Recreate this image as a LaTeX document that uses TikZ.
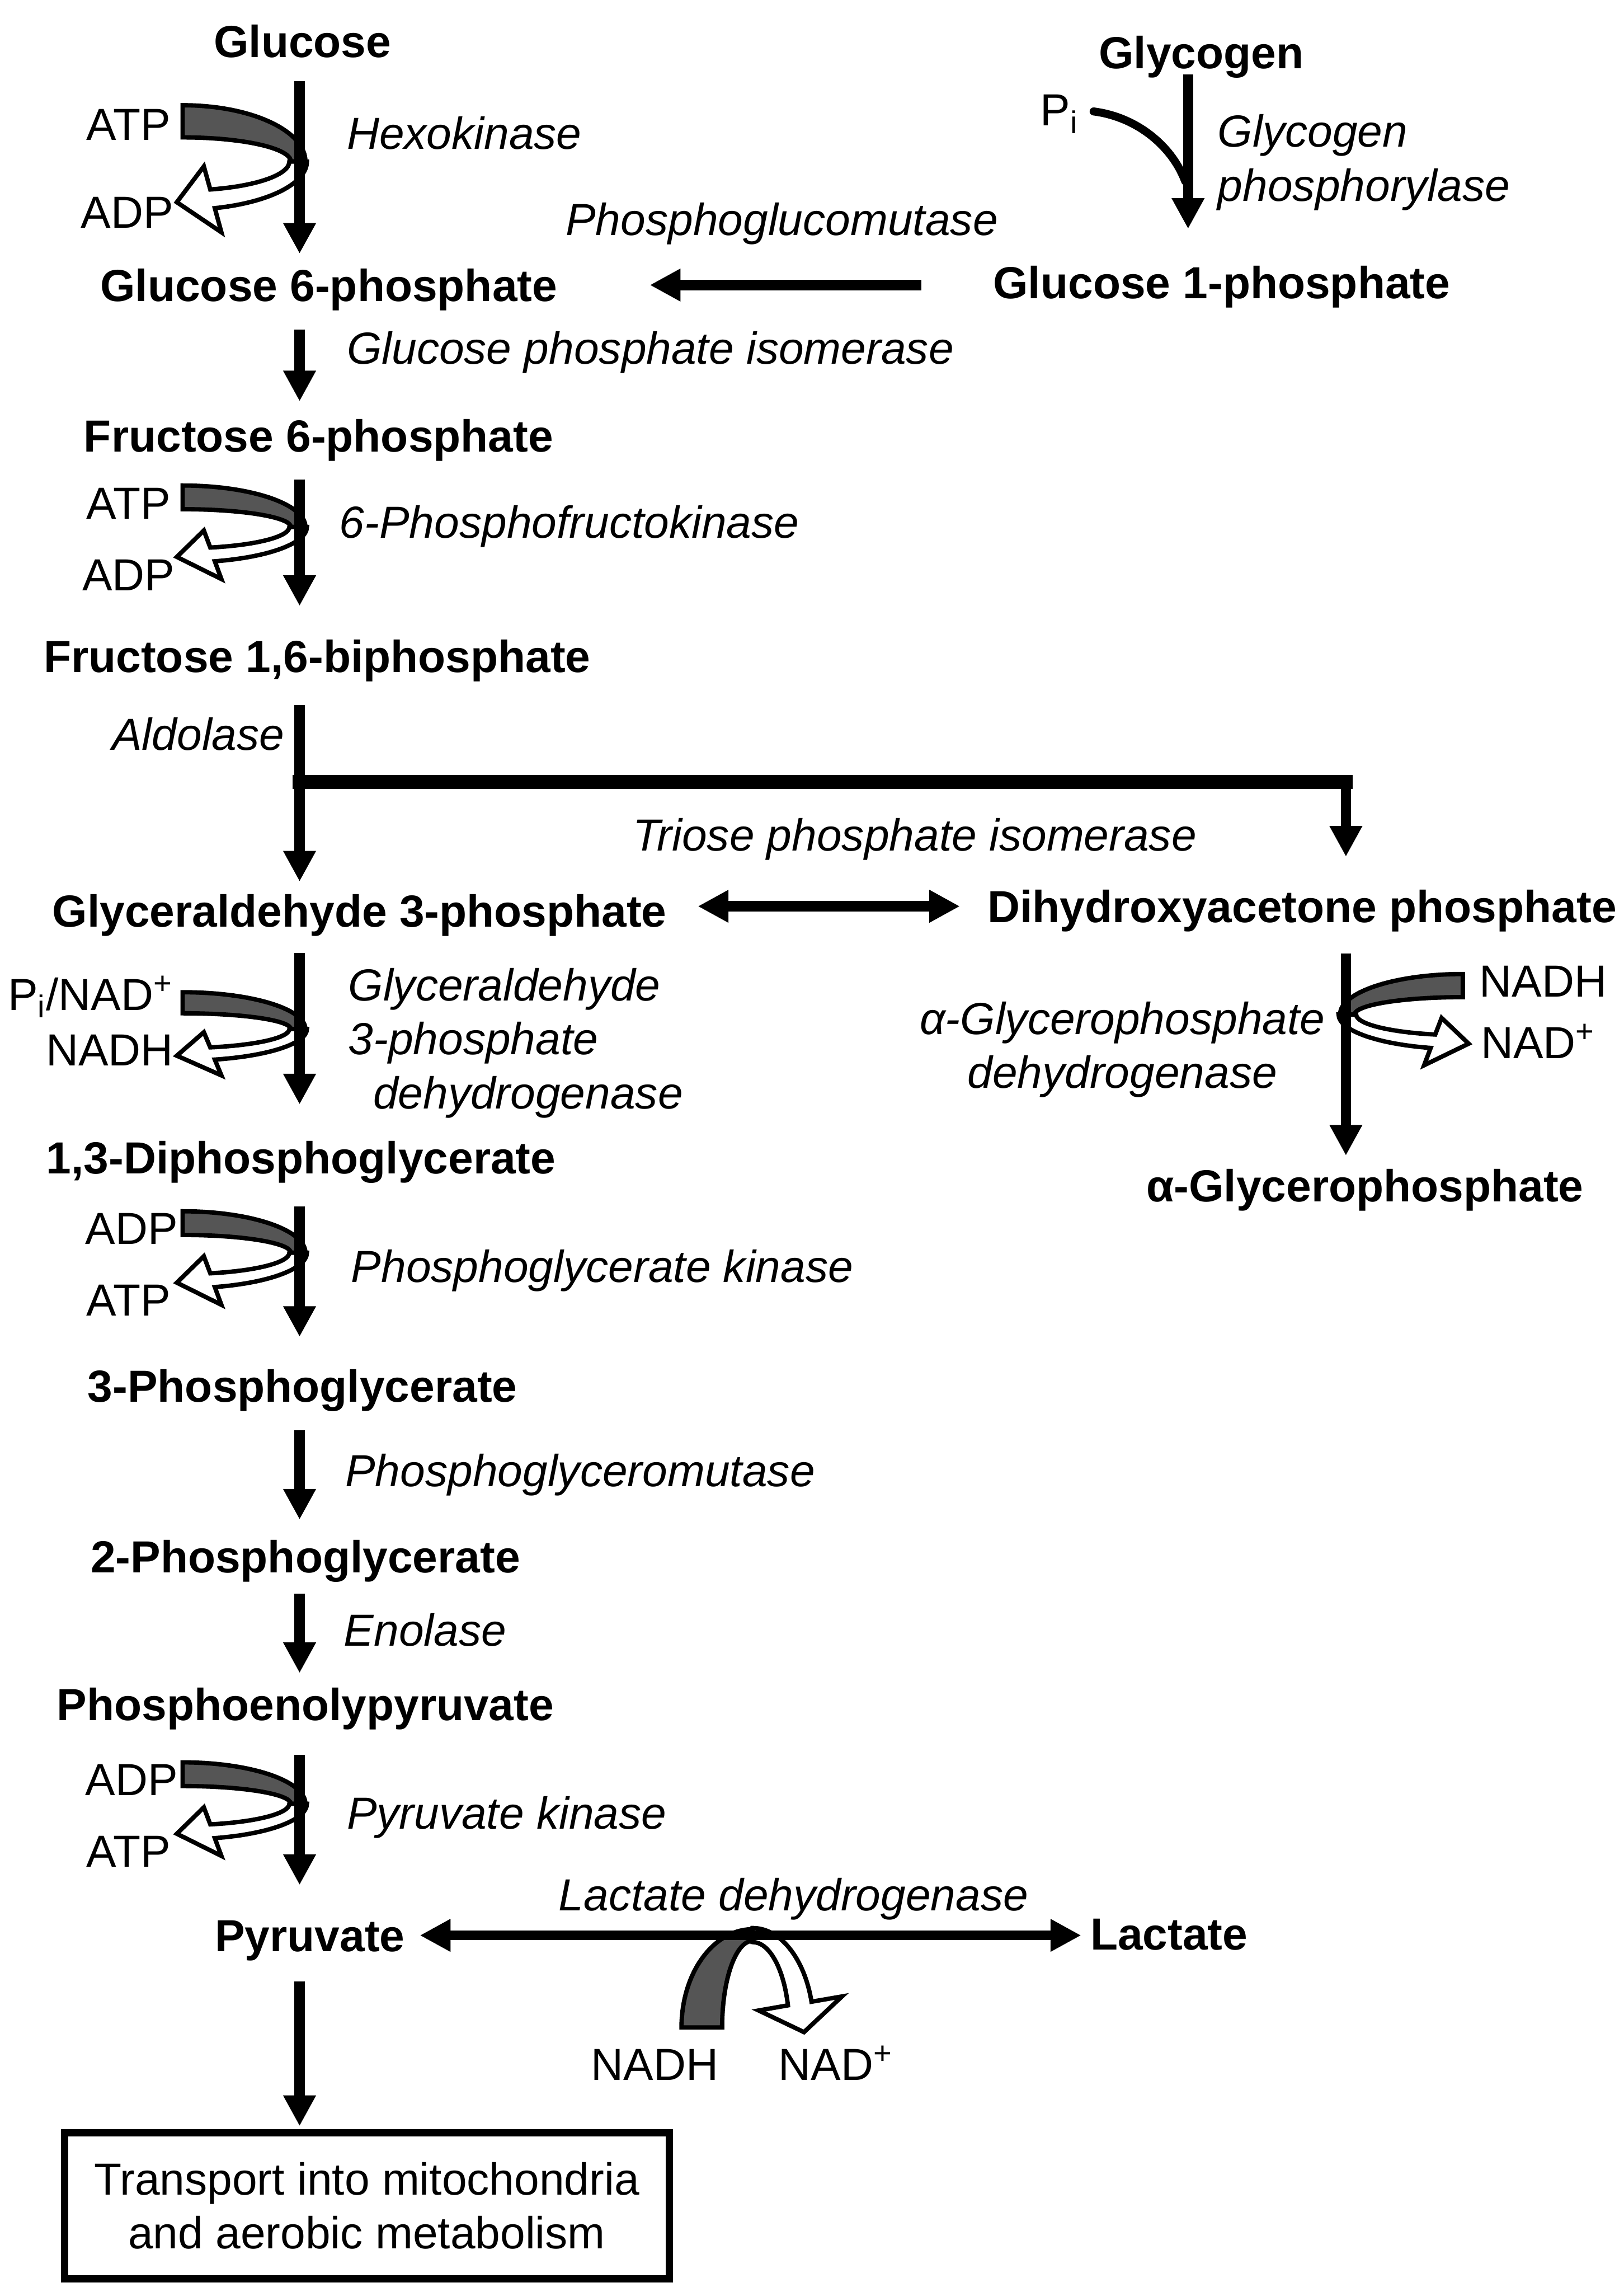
\documentclass[tikz,border=0pt]{standalone}
\usepackage{fontspec}
\setmainfont{Liberation Sans}
\usepackage{tikz}
\usetikzlibrary{arrows.meta, positioning, calc}
\usepackage{xcolor}
\definecolor{bandgray}{RGB}{85, 85, 85}
\definecolor{inkblack}{RGB}{0, 0, 0}
\newcommand{\labelsize}{\fontsize{17.5}{21}\selectfont}
\tikzstyle{metab} = [font=\labelsize\bfseries, text height=12.6pt, text depth=0pt, inner sep=0pt]
\tikzstyle{enzyme} = [font=\labelsize\itshape, text height=12.6pt, text depth=0pt, inner sep=0pt]
\tikzstyle{enzlines} = [font=\labelsize\itshape, inner sep=0pt]
\tikzstyle{cofac} = [font=\labelsize, text height=12.6pt, text depth=0pt, inner sep=0pt]
\tikzstyle{rxn} = [-{Triangle[width=0.42cm, length=0.42cm]}, line width=0.14cm, inkblack]
\tikzstyle{revrxn} = [{Triangle[width=0.42cm, length=0.42cm]}-{Triangle[width=0.42cm, length=0.42cm]}, line width=0.15cm, inkblack]
\tikzset{
  cofactor/.pic={
    % shaded band coming in
    \filldraw[fill=bandgray, draw=inkblack, line width=0.06cm]
      (-80,-35) arc[start angle=-90, end angle=0, x radius=84, y radius=35]
      -- (-6,0) arc[start angle=0, end angle=-90, x radius=74, y radius=15] -- cycle;
    % open arrow going out
    \filldraw[fill=white, draw=inkblack, line width=0.06cm]
      (-7,0) arc[start angle=0, end angle=75, x radius=73, y radius=18]
      -- (-65.5,3) -- (-84,25.3) -- (-53.5,44) -- (-58,29)
      arc[start angle=75, end angle=0, x radius=85, y radius=30] -- cycle;
  }
}

\begin{document}
\begin{tikzpicture}[x=0.02cm, y=-0.02cm]
\useasboundingbox (0,0) rectangle (1111,1568);

% Guide lines
\coordinate (spine) at (205,0);
\coordinate (rspine) at (921,0);
\coordinate (gspine) at (813,0);
\coordinate (aldsplit) at (205,535);
\coordinate (pijoin) at (811,124);

% Metabolites
\node[metab] (glucose) at (207,28) {Glucose};
\node[metab] (glycogen) at (822,36) {Glycogen};
\node[metab] (gsixp) at (225,195) {Glucose 6-phosphate};
\node[metab] (gonep) at (836,193) {Glucose 1-phosphate};
\node[metab] (fsixp) at (218,298) {Fructose 6-phosphate};
\node[metab] (fbp) at (217,449) {Fructose 1,6-biphosphate};
\node[metab] (gap) at (246,623) {Glyceraldehyde 3-phosphate};
\node[metab] (dhap) at (891,620) {Dihydroxyacetone phosphate};
\node[metab] (glyp) at (934,811) {α-Glycerophosphate};
\node[metab] (bpg) at (206,792) {1,3-Diphosphoglycerate};
\node[metab] (pgthree) at (207,948) {3-Phosphoglycerate};
\node[metab] (pgtwo) at (209,1065) {2-Phosphoglycerate};
\node[metab] (pep) at (209,1166) {Phosphoenolypyruvate};
\node[metab] (pyruvate) at (212,1324) {Pyruvate};
\node[metab] (lactate) at (800,1323) {Lactate};
\node[draw, line width=0.1cm, minimum width=8.28cm, minimum height=2cm, align=center, font=\labelsize] (mito) at (251,1509) {Transport into mitochondria\\and aerobic metabolism};

% Enzymes
\node[enzyme, anchor=west] (hexo) at (237,91) {Hexokinase};
\node[enzlines, anchor=north west, align=left] (glyphos) at (833,78) {Glycogen\\phosphorylase};
\node[enzyme] (pglm) at (535,150) {Phosphoglucomutase};
\node[enzyme, anchor=west] (gpi) at (237,238) {Glucose phosphate isomerase};
\node[enzyme, anchor=west] (pfk) at (232,357) {6-Phosphofructokinase};
\node[enzyme, anchor=east] (aldolase) at (195,502) {Aldolase};
\node[enzyme] (tpi) at (626,571) {Triose phosphate isomerase};
\node[enzlines, anchor=north west, align=left] (gapdh) at (238,662) {Glyceraldehyde\\3-phosphate\\\hspace*{0.34cm}dehydrogenase};
\node[enzlines, anchor=north, align=center] (gpdh) at (768,685) {α-Glycerophosphate\\dehydrogenase};
\node[enzyme, anchor=west] (pgk) at (240,866) {Phosphoglycerate kinase};
\node[enzyme, anchor=west] (pgmut) at (236,1006) {Phosphoglyceromutase};
\node[enzyme, anchor=west] (enolase) at (235,1115) {Enolase};
\node[enzyme, anchor=west] (pk) at (237,1240) {Pyruvate kinase};
\node[enzyme] (ldh) at (543,1296) {Lactate dehydrogenase};

% Cofactors
\node[cofac] (atpa) at (88,85) {ATP};
\node[cofac] (adpa) at (87,145) {ADP};
\node[cofac] (atpb) at (88,344) {ATP};
\node[cofac] (adpb) at (88,393) {ADP};
\node[cofac] (pinad) at (62,680) {P\textsubscript{i}/NAD\textsuperscript{+}};
\node[cofac] (nadha) at (75,718) {NADH};
\node[cofac, anchor=west] (nadhb) at (1012,671) {NADH};
\node[cofac, anchor=west] (nadb) at (1013,713) {NAD\textsuperscript{+}};
\node[cofac] (adpc) at (90,840) {ADP};
\node[cofac] (atpc) at (88,889) {ATP};
\node[cofac] (adpd) at (90,1217) {ADP};
\node[cofac] (atpd) at (88,1266) {ATP};
\node[cofac] (nadhc) at (448,1412) {NADH};
\node[cofac] (nadc) at (572,1412) {NAD\textsuperscript{+}};
\node[cofac] (pinorg) at (725,75) {P\textsubscript{i}};

% Cofactor loops
\pic[yscale=1.1] at (205,110.5) {cofactor};
\pic[yscale=0.81] at (205,360.5) {cofactor};
\pic[yscale=0.72] at (205,704) {cofactor};
\pic[xscale=-1, yscale=0.79] at (921,694) {cofactor};
\pic[yscale=0.81] at (205,857) {cofactor};
\pic[yscale=0.81] at (205,1234) {cofactor};
\pic[rotate=90, xscale=0.8, yscale=1.39] at (515,1323) {cofactor};

% Main pathway
\draw[rxn, shorten <=0.32cm, shorten >=0.2cm] (glucose.south -| spine) -- (gsixp.north -| spine);
\draw[rxn, shorten <=0.38cm, shorten >=0.24cm] (gsixp.south -| spine) -- (fsixp.north -| spine);
\draw[rxn, shorten <=0.37cm, shorten >=0.46cm] (fsixp.south -| spine) -- (fbp.north -| spine);
\draw[rxn, shorten <=0.44cm, shorten >=0.17cm] (fbp.south -| spine) -- (gap.north -| spine);
\draw[rxn, shorten <=0.35cm, shorten >=0.5cm] (gap.south -| spine) -- (bpg.north -| spine);
\draw[rxn, shorten <=0.44cm, shorten >=0.44cm] (bpg.south -| spine) -- (pgthree.north -| spine);
\draw[rxn, shorten <=0.38cm, shorten >=0.28cm] (pgthree.south -| spine) -- (pgtwo.north -| spine);
\draw[rxn, shorten <=0.28cm, shorten >=0.2cm] (pgtwo.south -| spine) -- (pep.north -| spine);
\draw[rxn, shorten <=0.46cm, shorten >=0.46cm] (pep.south -| spine) -- (pyruvate.north -| spine);
\draw[rxn, shorten <=0.4cm, shorten >=0.04cm] (pyruvate.south -| spine) -- (mito.north -| spine);

% Glycogen branch
\draw[rxn, shorten <=0.07cm, shorten >=0.5cm] (glycogen.south -| gspine) -- (gonep.north -| gspine);
\draw[line width=0.11cm, line cap=round, shorten <=0.2cm] (pinorg.east) .. controls (778,80) and (802,100) .. (pijoin);
\draw[rxn, shorten <=0.98cm, shorten >=1.26cm] (gonep.west |- gsixp) -- (gsixp.east);

% Triose branch
\draw[line width=0.19cm, line cap=rect] (aldsplit) -- (aldsplit -| rspine);
\draw[rxn, shorten >=0.45cm] (aldsplit -| rspine) -- (dhap.north -| rspine);
\draw[revrxn, shorten <=0.42cm, shorten >=0.37cm] (gap.east |- dhap.west) -- (dhap.west);
\draw[rxn, shorten <=0.42cm, shorten >=0.18cm] (dhap.south -| rspine) -- (glyp.north -| rspine);

% Lactate
\draw[revrxn, line width=0.13cm, shorten <=0.2cm, shorten >=0.12cm] (pyruvate.east) -- (pyruvate.east -| lactate.west);

\end{tikzpicture}
\end{document}
